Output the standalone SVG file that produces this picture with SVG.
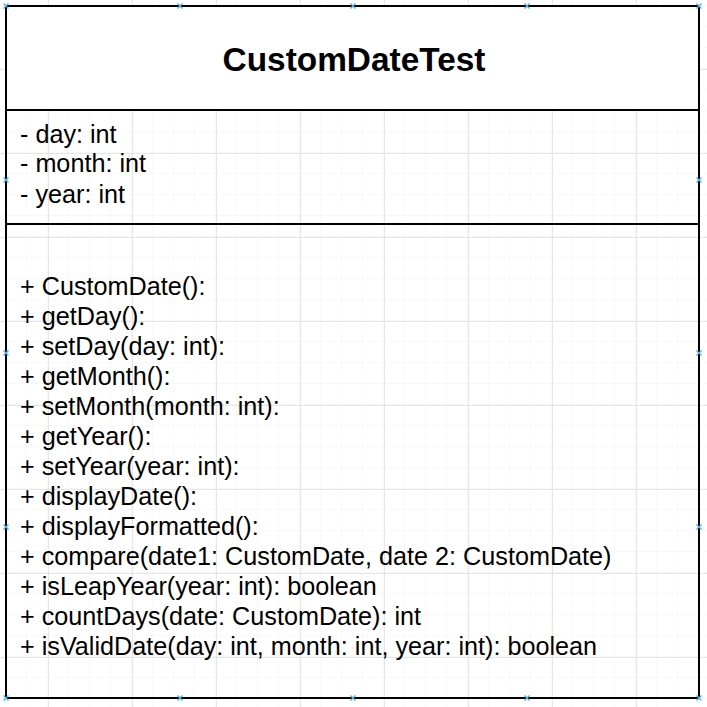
<svg xmlns="http://www.w3.org/2000/svg" width="707" height="707" viewBox="0 0 707 707">
<defs>
<pattern id="minor" x="6" y="6" width="21" height="21" patternUnits="userSpaceOnUse">
<path d="M21 0V21M0 21H21" fill="none" stroke="#f2f2f2" stroke-width="1"/>
</pattern>
<pattern id="major" x="48" y="69" width="84" height="84" patternUnits="userSpaceOnUse">
<path d="M0.5 0V84M0 0.5H84" fill="none" stroke="#e6e6e6" stroke-width="1"/>
</pattern>
<path id="h" d="M-2.5 -2.5L2.5 2.5M-2.5 2.5L2.5 -2.5" fill="none" stroke="#4fb3e0" stroke-width="1.3"/>
</defs>
<style>
.t{font-family:"Liberation Sans",Arial,sans-serif;font-size:25.2px;fill:#000}
.title{font-family:"Liberation Sans",Arial,sans-serif;font-size:33.4px;font-weight:bold;fill:#000}
.ln{stroke:#000;stroke-width:2;fill:none}
</style>
<rect width="707" height="707" fill="#fff"/>
<rect width="707" height="707" fill="url(#minor)"/>
<rect width="707" height="707" fill="url(#major)"/>
<g id="CustomDateTest">
<rect x="6" y="6" width="693" height="104" fill="#fff"/>
<rect class="ln" x="6" y="6" width="693" height="692"/>
<line class="ln" x1="6" y1="110" x2="699" y2="110"/>
<line class="ln" x1="6" y1="224" x2="699" y2="224"/>
<text class="title" x="354" y="71" text-anchor="middle">CustomDateTest</text>
<text class="t" x="20" y="143">- day: int</text>
<text class="t" x="20" y="172">- month: int</text>
<text class="t" x="20" y="203">- year: int</text>
<text class="t" x="20" y="295">+ CustomDate():</text>
<text class="t" x="20" y="325">+ getDay():</text>
<text class="t" x="20" y="355">+ setDay(day: int):</text>
<text class="t" x="20" y="385">+ getMonth():</text>
<text class="t" x="20" y="415">+ setMonth(month: int):</text>
<text class="t" x="20" y="445">+ getYear():</text>
<text class="t" x="20" y="475">+ setYear(year: int):</text>
<text class="t" x="20" y="505">+ displayDate():</text>
<text class="t" x="20" y="535">+ displayFormatted():</text>
<text class="t" x="20" y="565">+ compare(date1: CustomDate, date 2: CustomDate)</text>
<text class="t" x="20" y="595">+ isLeapYear(year: int): boolean</text>
<text class="t" x="20" y="625">+ countDays(date: CustomDate): int</text>
<text class="t" x="20" y="655">+ isValidDate(day: int, month: int, year: int): boolean</text>
</g>
<g id="handles">
<use href="#h" x="6" y="6"/><use href="#h" x="180" y="6"/><use href="#h" x="353" y="6"/><use href="#h" x="527" y="6"/><use href="#h" x="699" y="6"/>
<use href="#h" x="6" y="698"/><use href="#h" x="180" y="698"/><use href="#h" x="353" y="698"/><use href="#h" x="527" y="698"/><use href="#h" x="699" y="698"/>
<use href="#h" x="6" y="180"/><use href="#h" x="6" y="353"/><use href="#h" x="6" y="527"/>
<use href="#h" x="699" y="180"/><use href="#h" x="699" y="353"/><use href="#h" x="699" y="527"/>
</g>
<g id="connectors"></g>
</svg>
